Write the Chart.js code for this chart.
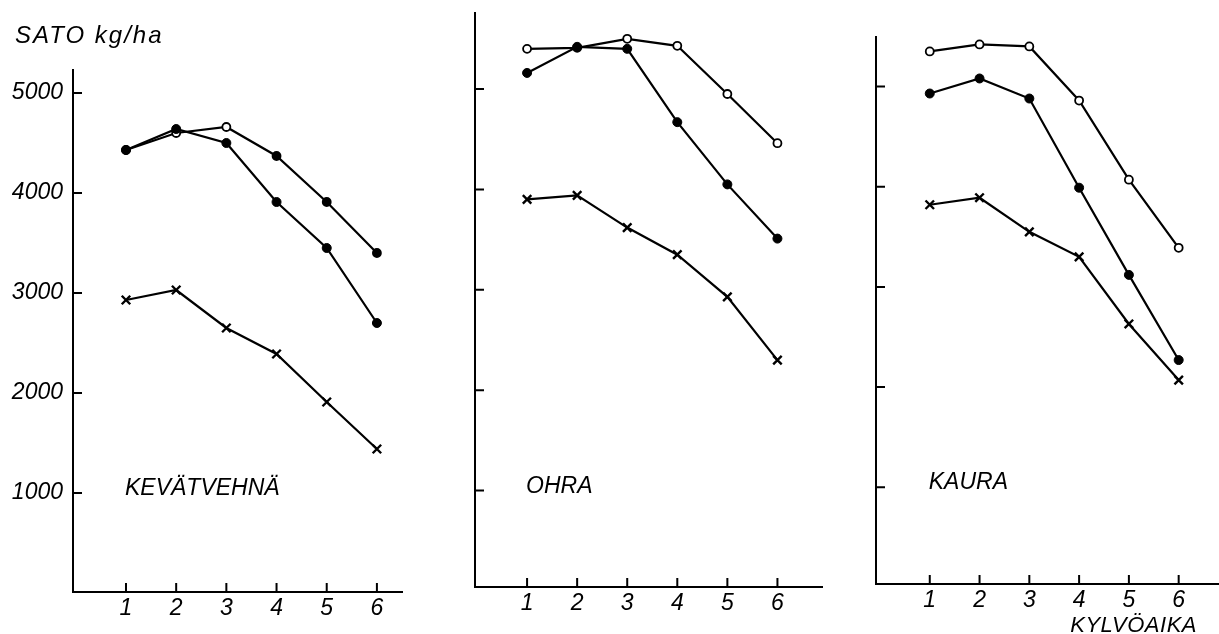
<!DOCTYPE html>
<html>
<head>
<meta charset="utf-8">
<script src="https://cdn.jsdelivr.net/npm/chart.js@4.4.1/dist/chart.umd.min.js"></script>
<style>
html,body{margin:0;padding:0;background:#fff;width:1219px;height:634px;overflow:hidden;}
canvas{position:absolute;left:0;top:0;}
</style>
</head>
<body>
<canvas id="c1" width="1219" height="634"></canvas>
<canvas id="c2" width="1219" height="634"></canvas>
<canvas id="c3" width="1219" height="634"></canvas>
<script>
// ---- data ----
const sowingTimes = [1, 2, 3, 4, 5, 6];
const yTickValues = [1000, 2000, 3000, 4000, 5000];
const yTickLabels = ['1000', '2000', '3000', '4000', '5000'];
const panelNames = ['KEVÄTVEHNÄ', 'OHRA', 'KAURA'];
const yAxisTitle = 'SATO kg/ha';
const xAxisTitle = 'KYLVÖAIKA';

// KEVÄTVEHNÄ
const wheatOpen   = [4430, 4600, 4660, 4370, 3910, 3400];
const wheatFilled = [4430, 4640, 4500, 3910, 3450, 2700];
const wheatCross  = [2930, 3030, 2650, 2390, 1910, 1440];
// OHRA
const barleyOpen   = [5400, 5410, 5500, 5430, 4950, 4460];
const barleyFilled = [5160, 5420, 5400, 4670, 4050, 3510];
const barleyCross  = [3900, 3940, 3620, 3350, 2930, 2300];
// KAURA
const oatsOpen   = [5350, 5420, 5400, 4860, 4070, 3390];
const oatsFilled = [4930, 5080, 4880, 3990, 3120, 2270];
const oatsCross  = [3820, 3890, 3550, 3300, 2630, 2070];

// ---- styling / layout ----
const FAMILY = '"Liberation Sans", Arial, sans-serif';
const W = 1219, H = 634;

function toPoints(vals) { return sowingTimes.map((t, i) => ({ x: t, y: vals[i] })); }

function makeDatasets(filled, open, cross, openFill) {
  return [
    { data: toPoints(filled), borderColor: '#000', borderWidth: 2.2, pointStyle: 'circle',
      pointRadius: 4.5, pointBackgroundColor: '#000', pointBorderColor: '#000', pointBorderWidth: 1 },
    { data: toPoints(open), borderColor: '#000', borderWidth: 2.2, pointStyle: 'circle',
      pointRadius: 4, pointBackgroundColor: openFill || '#fff', pointBorderColor: '#000', pointBorderWidth: 1.8 },
    { data: toPoints(cross), borderColor: '#000', borderWidth: 2.2, pointStyle: 'crossRot',
      pointRadius: 6, pointBorderColor: '#000', pointBorderWidth: 2.4 }
  ];
}

function makePlugin(name, extras) {
  return {
    id: 'decor',
    afterDraw(chart) {
      const { ctx, chartArea: a, scales: { x, y } } = chart;
      ctx.save();
      ctx.strokeStyle = '#000';
      ctx.lineWidth = 2;
      ctx.beginPath();
      y.ticks.forEach((t, i) => { const py = y.getPixelForTick(i); ctx.moveTo(a.left, py); ctx.lineTo(a.left + 9, py); });
      x.ticks.forEach((t, i) => { const px = x.getPixelForTick(i); ctx.moveTo(px, a.bottom); ctx.lineTo(px, a.bottom - 9); });
      ctx.stroke();
      ctx.fillStyle = '#000';
      ctx.font = 'italic 23px ' + FAMILY;
      ctx.textAlign = 'left';
      ctx.textBaseline = 'alphabetic';
      ctx.fillText(name, x.getPixelForValue(1) - 1, y.getPixelForValue(1000) + 2);
      (extras || []).forEach(e => {
        ctx.font = 'italic ' + e.size + 'px ' + FAMILY;
        ctx.textAlign = e.align;
        if ('letterSpacing' in ctx) ctx.letterSpacing = (e.spacing || 0) + 'px';
        ctx.fillText(e.text, e.x, e.y);
        if ('letterSpacing' in ctx) ctx.letterSpacing = '0px';
      });
      ctx.restore();
    }
  };
}

function makeChart(id, cfg) {
  const a = cfg.area;
  const yW = cfg.showY ? a.left : 10;
  const xH = 40;
  return new Chart(document.getElementById(id), {
    type: 'line',
    data: { datasets: cfg.datasets },
    options: {
      responsive: false,
      animation: false,
      events: [],
      layout: {
        autoPadding: false,
        padding: { left: a.left - yW, right: W - a.right, top: a.top, bottom: H - a.bottom - xH }
      },
      plugins: { legend: { display: false }, tooltip: { enabled: false }, title: { display: false } },
      elements: { line: { tension: 0 } },
      scales: {
        x: {
          type: 'linear', min: cfg.xMin, max: cfg.xMax,
          afterBuildTicks: s => { s.ticks = sowingTimes.map(v => ({ value: v })); },
          afterFit: s => { s.height = xH; },
          grid: { display: false, drawTicks: false },
          border: { display: true, color: '#000', width: 2 },
          ticks: { color: '#000', padding: 3, autoSkip: false, maxRotation: 0,
                   font: { family: FAMILY, size: 23, style: 'italic' },
                   callback: v => String(v) }
        },
        y: {
          type: 'linear', min: cfg.yMin, max: cfg.yMax,
          afterBuildTicks: s => { s.ticks = yTickValues.map(v => ({ value: v })); },
          afterFit: s => { s.width = yW; },
          grid: { display: false, drawTicks: false },
          border: { display: true, color: '#000', width: 2 },
          ticks: { display: cfg.showY, color: '#000', padding: 10, autoSkip: false,
                   font: { family: FAMILY, size: 23, style: 'italic' },
                   callback: (v) => yTickLabels[yTickValues.indexOf(v)] }
        }
      }
    },
    plugins: [makePlugin(cfg.name, cfg.extras)]
  });
}

makeChart('c1', {
  name: panelNames[0], showY: true,
  area: { left: 73, right: 402, top: 70, bottom: 592 },
  xMin: -0.056, xMax: 6.5, yMin: 10, yMax: 5230,
  datasets: makeDatasets(wheatFilled, wheatOpen, wheatCross, ['#000', '#fff', '#fff', '#000', '#000', '#000']),
  extras: [{ text: yAxisTitle, x: 15, y: 43, size: 24, align: 'left', spacing: 2 }]
});
makeChart('c2', {
  name: panelNames[1], showY: false,
  area: { left: 475, right: 822, top: 13, bottom: 587 },
  xMin: -0.04, xMax: 6.89, yMin: 40, yMax: 5757,
  datasets: makeDatasets(barleyFilled, barleyOpen, barleyCross)
});
makeChart('c3', {
  name: panelNames[2], showY: false,
  area: { left: 876, right: 1219, top: 37, bottom: 584 },
  xMin: -0.08, xMax: 6.81, yMin: 35, yMax: 5494,
  datasets: makeDatasets(oatsFilled, oatsOpen, oatsCross),
  extras: [{ text: xAxisTitle, x: 1197, y: 632, size: 22, align: 'right', spacing: 0.5 }]
});
</script>
</body>
</html>
